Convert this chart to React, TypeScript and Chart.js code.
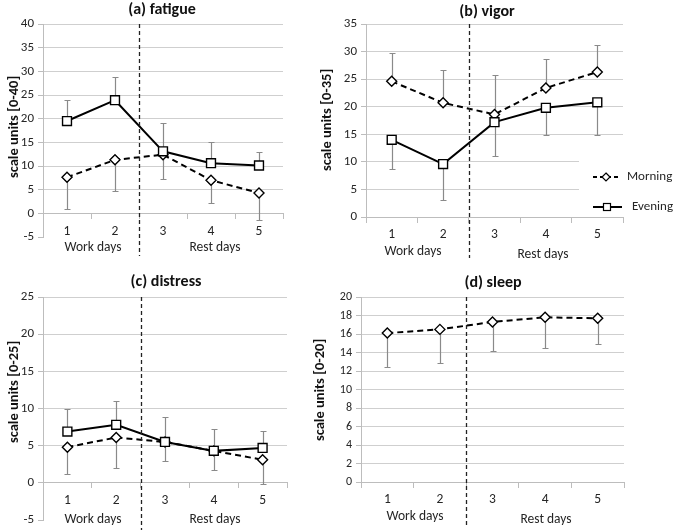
import React, { useEffect, useRef } from 'react';
import { Chart, registerables } from 'chart.js';

Chart.register(...registerables);

const FONT = 'Carlito, Calibri, Lato, "Liberation Sans", sans-serif';
const GRID = '#cfcfcf';
const AXIS = '#bdbdbd';
const TXT = '#262626';
const ERR = '#8a8a8a';

const days = ['1', '2', '3', '4', '5'];
const periodLabels = ['Work days', 'Rest days'];
const legendLabels = ['Morning', 'Evening'];

const fatigueMorning = [7.6, 11.3, 12.4, 7.0, 4.3];
const fatigueMorningLow = [0.9, 4.8, 7.3, 2.2, -1.5];
const fatigueEvening = [19.5, 23.9, 13.1, 10.6, 10.1];
const fatigueEveningHigh = [24.0, 28.7, 19.0, 15.1, 13.0];

const vigorMorning = [24.6, 20.7, 18.6, 23.4, 26.3];
const vigorMorningHigh = [29.7, 26.6, 25.7, 28.7, 31.2];
const vigorEvening = [14.0, 9.6, 17.2, 19.8, 20.8];
const vigorEveningLow = [8.7, 3.0, 11.1, 14.8, 14.8];

const distressMorning = [4.8, 6.1, 5.5, 4.3, 3.1];
const distressMorningLow = [1.2, 2.0, 3.0, 1.7, -0.2];
const distressEvening = [6.9, 7.8, 5.5, 4.3, 4.7];
const distressEveningHigh = [9.9, 11.0, 8.9, 7.3, 7.0];

const sleepMorning = [16.1, 16.5, 17.3, 17.8, 17.7];
const sleepMorningLow = [12.4, 12.9, 14.2, 14.5, 14.9];

type Panel = {
  key: string;
  title: string;
  yTitle: string;
  min: number;
  max: number;
  step: number;
  tickSize: number;
  morning: number[];
  morningErr: number[];
  evening?: number[];
  eveningErr?: number[];
  area: { l: number; t: number; r: number; b: number };
  titlePos: [number, number];
  yTitlePos: [number, number];
  workPos: [number, number];
  restPos: [number, number];
  dashEnd: number;
  legend?: boolean;
};

const panels: Panel[] = [
  {
    key: 'a', title: '(a) fatigue', yTitle: 'scale units [0-40]', min: -5, max: 40, step: 5, tickSize: 13,
    morning: fatigueMorning, morningErr: fatigueMorningLow, evening: fatigueEvening, eveningErr: fatigueEveningHigh,
    area: { l: 43, t: 24, r: 283, b: 237 }, titlePos: [162, 10], yTitlePos: [14, 127],
    workPos: [93, 248], restPos: [215, 248], dashEnd: 256,
  },
  {
    key: 'b', title: '(b) vigor', yTitle: 'scale units [0-35]', min: 0, max: 35, step: 5, tickSize: 13,
    morning: vigorMorning, morningErr: vigorMorningHigh, evening: vigorEvening, eveningErr: vigorEveningLow,
    area: { l: 366, t: 24, r: 623, b: 217 }, titlePos: [487, 12], yTitlePos: [327, 120],
    workPos: [413, 252], restPos: [543, 255], dashEnd: 258, legend: true,
  },
  {
    key: 'c', title: '(c) distress', yTitle: 'scale units [0-25]', min: -5, max: 25, step: 5, tickSize: 13,
    morning: distressMorning, morningErr: distressMorningLow, evening: distressEvening, eveningErr: distressEveningHigh,
    area: { l: 43, t: 297, r: 287, b: 520 }, titlePos: [166, 282], yTitlePos: [14, 392],
    workPos: [93, 520], restPos: [215, 520], dashEnd: 530,
  },
  {
    key: 'd', title: '(d) sleep', yTitle: 'scale units [0-20]', min: 0, max: 20, step: 2, tickSize: 12,
    morning: sleepMorning, morningErr: sleepMorningLow,
    area: { l: 361, t: 297, r: 624, b: 482 }, titlePos: [493, 283], yTitlePos: [320, 390],
    workPos: [415, 517], restPos: [546, 520], dashEnd: 526,
  },
];

const W = 685;
const H = 532;
const AXIS_W = 40;

function drawDiamond(ctx: CanvasRenderingContext2D, x: number, y: number, r: number) {
  ctx.beginPath();
  ctx.moveTo(x, y - r);
  ctx.lineTo(x + r, y);
  ctx.lineTo(x, y + r);
  ctx.lineTo(x - r, y);
  ctx.closePath();
  ctx.fillStyle = '#fff';
  ctx.fill();
  ctx.stroke();
}

function PanelChart({ p }: { p: Panel }) {
  const ref = useRef<HTMLCanvasElement>(null);
  useEffect(() => {
    if (!ref.current) return;
    const decor = {
      id: 'decor' + p.key,
      beforeDatasetsDraw(chart: any) {
        const ctx = chart.ctx as CanvasRenderingContext2D;
        const xs = chart.scales.x;
        const ys = chart.scales.y;
        ctx.save();
        ctx.strokeStyle = ERR;
        ctx.lineWidth = 1.2;
        const bars: [number[] | undefined, number[] | undefined][] = [
          [p.morning, p.morningErr],
          [p.evening, p.eveningErr],
        ];
        bars.forEach(([vals, errs]) => {
          if (!vals || !errs) return;
          vals.forEach((v, i) => {
            const px = Math.round(xs.getPixelForValue(i)) + 0.5;
            const y0 = ys.getPixelForValue(v);
            const y1 = Math.round(ys.getPixelForValue(errs[i])) + 0.5;
            ctx.beginPath();
            ctx.moveTo(px, y0);
            ctx.lineTo(px, y1);
            ctx.moveTo(px - 3, y1);
            ctx.lineTo(px + 3, y1);
            ctx.stroke();
          });
        });
        ctx.restore();
      },
      afterDraw(chart: any) {
        const ctx = chart.ctx as CanvasRenderingContext2D;
        const xs = chart.scales.x;
        const area = chart.chartArea;
        ctx.save();
        // divider between work and rest days
        const xm = Math.round((xs.getPixelForValue(1) + xs.getPixelForValue(2)) / 2) + 0.5;
        ctx.strokeStyle = '#222';
        ctx.lineWidth = 1.3;
        ctx.setLineDash([4, 3]);
        ctx.beginPath();
        ctx.moveTo(xm, area.top);
        ctx.lineTo(xm, p.dashEnd);
        ctx.stroke();
        ctx.setLineDash([]);

        // title
        ctx.fillStyle = '#111';
        ctx.textAlign = 'center';
        ctx.textBaseline = 'middle';
        ctx.font = `bold 16px ${FONT}`;
        ctx.fillText(p.title, p.titlePos[0], p.titlePos[1]);

        // y title
        ctx.save();
        ctx.translate(p.yTitlePos[0], p.yTitlePos[1]);
        ctx.rotate(-Math.PI / 2);
        ctx.font = `bold 14.5px ${FONT}`;
        ctx.fillText(p.yTitle, 0, 0);
        ctx.restore();

        // period labels
        ctx.fillStyle = TXT;
        ctx.font = `13.5px ${FONT}`;
        ctx.fillText(periodLabels[0], p.workPos[0], p.workPos[1]);
        ctx.fillText(periodLabels[1], p.restPos[0], p.restPos[1]);

        if (p.legend) {
          const lx = area.right - 30;
          ctx.fillStyle = '#fff';
          ctx.fillRect(lx - 14, 160, W - lx + 14, 52);
          ctx.strokeStyle = '#000';
          ctx.lineWidth = 2;
          // Morning
          ctx.setLineDash([4, 3]);
          ctx.beginPath();
          ctx.moveTo(lx, 177);
          ctx.lineTo(lx + 28, 177);
          ctx.stroke();
          ctx.setLineDash([]);
          ctx.lineWidth = 1.2;
          drawDiamond(ctx, lx + 13, 177, 4);
          // Evening
          ctx.lineWidth = 2;
          ctx.beginPath();
          ctx.moveTo(lx, 207);
          ctx.lineTo(lx + 29, 207);
          ctx.stroke();
          ctx.lineWidth = 1.2;
          ctx.fillStyle = '#fff';
          ctx.fillRect(lx + 10.5, 203.5, 7, 7);
          ctx.strokeRect(lx + 10.5, 203.5, 7, 7);
          ctx.fillStyle = TXT;
          ctx.textAlign = 'left';
          ctx.font = `13px ${FONT}`;
          ctx.fillText(legendLabels[0], lx + 34, 177);
          ctx.fillText(legendLabels[1], lx + 39, 207);
        }
        ctx.restore();
      },
    };

    const datasets: any[] = [
      {
        label: legendLabels[0],
        data: p.morning,
        order: 1,
        borderColor: '#000',
        borderWidth: 2,
        borderDash: [6, 4],
        pointStyle: 'rectRot',
        pointRadius: 5,
        pointBackgroundColor: '#fff',
        pointBorderColor: '#000',
        pointBorderWidth: 1.4,
        fill: false,
        tension: 0,
      },
    ];
    if (p.evening) {
      datasets.push({
        label: legendLabels[1],
        data: p.evening,
        order: 0,
        borderColor: '#000',
        borderWidth: 2,
        pointStyle: 'rect',
        pointRadius: 6.3,
        pointBackgroundColor: '#fff',
        pointBorderColor: '#000',
        pointBorderWidth: 1.4,
        fill: false,
        tension: 0,
      });
    }

    const chart = new Chart(ref.current, {
      type: 'line',
      data: { labels: days, datasets },
      plugins: [decor],
      options: {
        animation: false,
        responsive: false,
        devicePixelRatio: 1,
        events: [],
        layout: {
          padding: { left: p.area.l - AXIS_W, top: p.area.t, right: W - p.area.r, bottom: H - p.area.b },
        },
        plugins: { legend: { display: false }, tooltip: { enabled: false }, title: { display: false } },
        scales: {
          x: {
            type: 'category',
            position: { y: 0 } as any,
            offset: true,
            grid: { drawOnChartArea: false, offset: true, tickLength: 5, tickColor: AXIS, color: AXIS },
            border: { color: AXIS, width: 1 },
            ticks: { font: { family: FONT, size: 13.5 }, color: TXT, padding: 5, maxRotation: 0, autoSkip: false },
          },
          y: {
            min: p.min,
            max: p.max,
            ticks: { stepSize: p.step, font: { family: FONT, size: p.tickSize }, color: TXT, padding: 4 },
            grid: {
              color: (c: any) => (c.tick && c.tick.value < 0 ? 'rgba(0,0,0,0)' : GRID),
              tickColor: AXIS,
              tickLength: 5,
            },
            border: { color: AXIS, width: 1 },
            afterFit: (s: any) => {
              s.width = AXIS_W;
            },
          },
        },
      } as any,
    });
    return () => chart.destroy();
  }, [p]);
  return (
    <canvas
      ref={ref}
      width={W}
      height={H}
      style={{ position: 'absolute', left: 0, top: 0, width: W, height: H }}
    />
  );
}

export default function App() {
  return (
    <div style={{ position: 'absolute', left: 0, top: 0, width: W, height: H, background: '#fff', overflow: 'hidden' }}>
      {panels.map((p) => (
        <PanelChart key={p.key} p={p} />
      ))}
    </div>
  );
}
